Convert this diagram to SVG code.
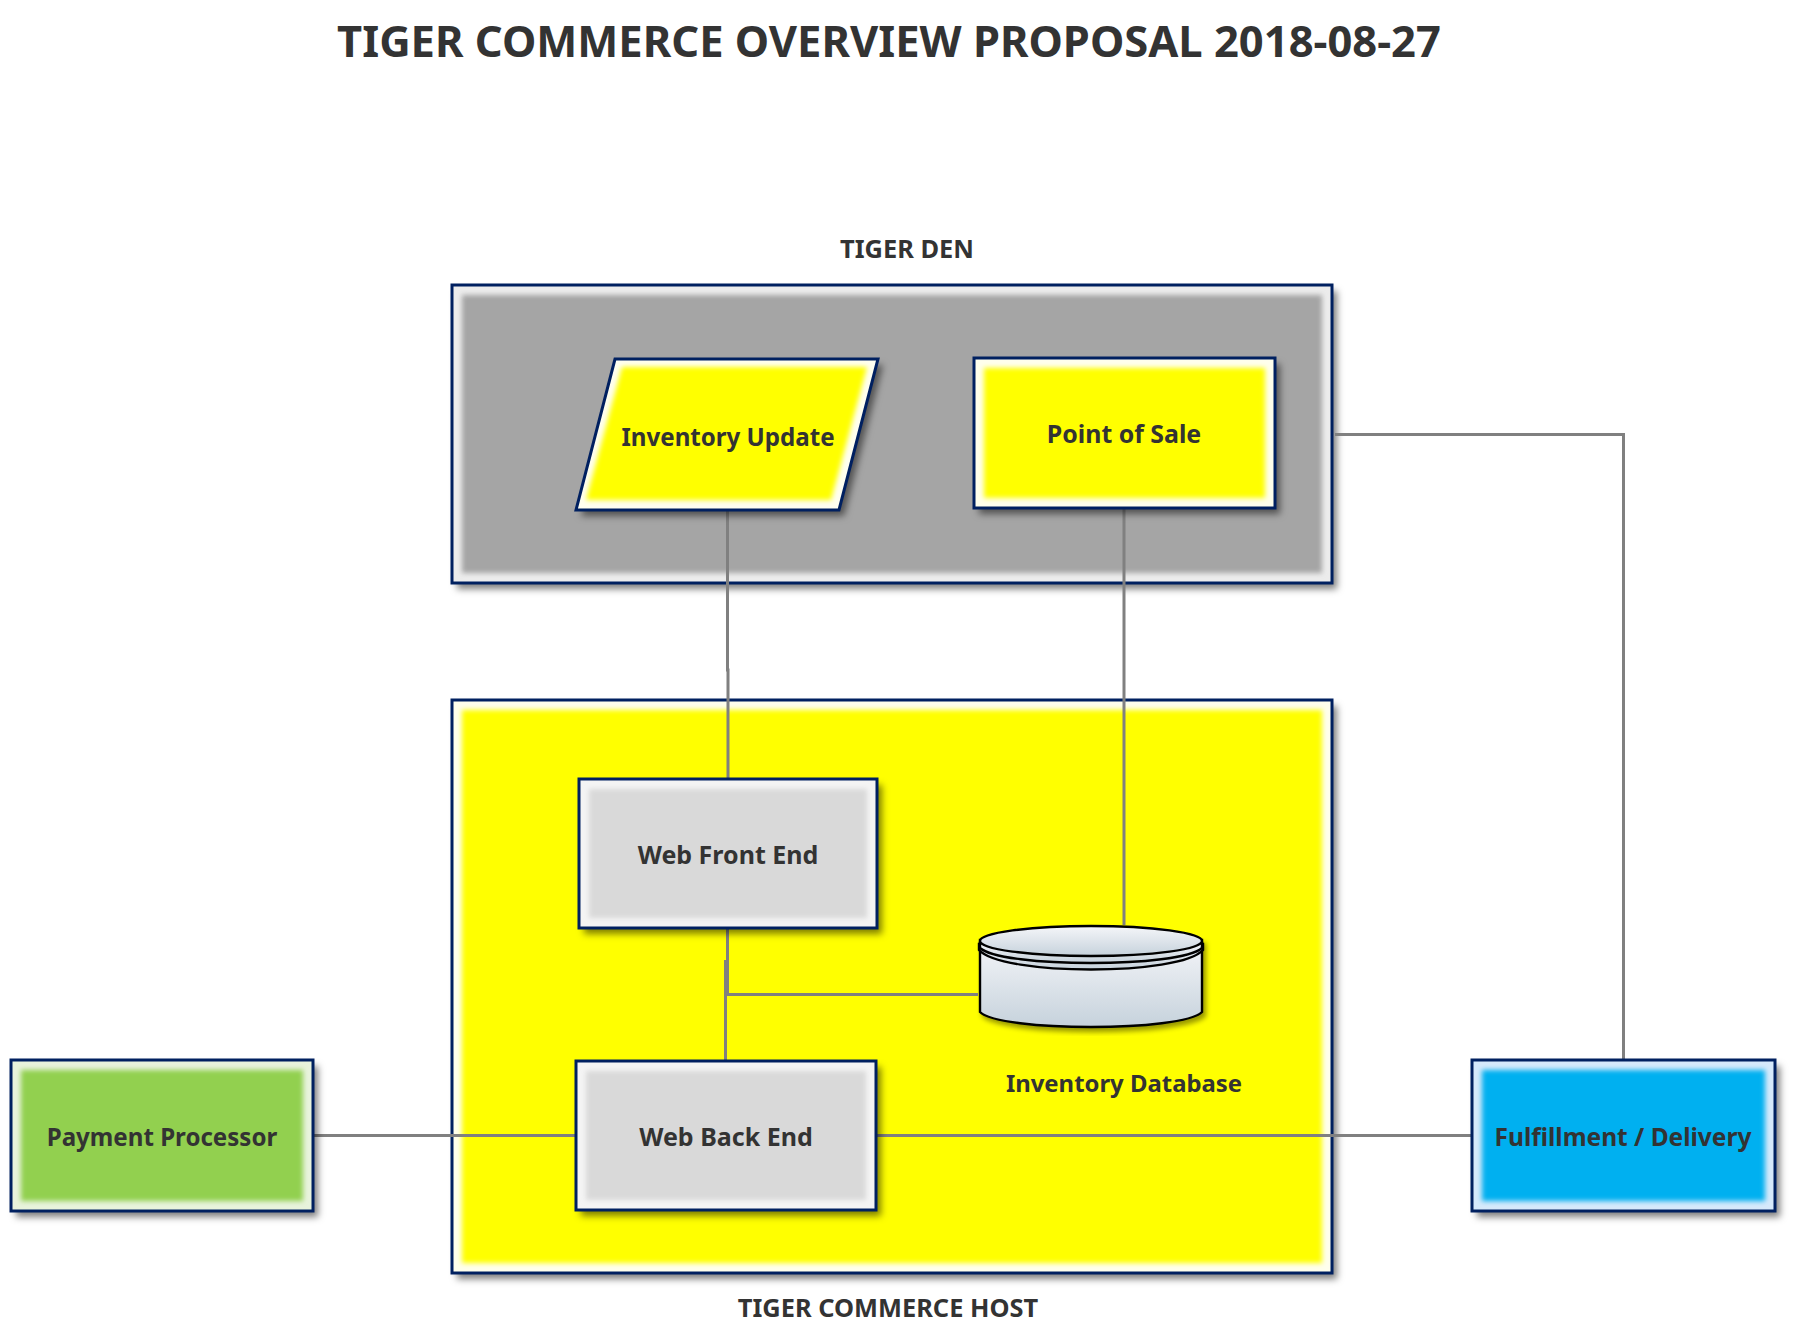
<svg xmlns="http://www.w3.org/2000/svg" width="1794" height="1333" viewBox="0 0 1794 1333">
<defs>
<filter id="shadow" x="-10%" y="-10%" width="120%" height="120%"><feDropShadow dx="5" dy="6" stdDeviation="3.5" flood-color="#000" flood-opacity="0.5"/></filter>
<filter id="shadow2" x="-10%" y="-10%" width="120%" height="120%"><feDropShadow dx="3" dy="4" stdDeviation="2.5" flood-color="#000" flood-opacity="0.4"/></filter>
<filter id="soft" x="-5%" y="-5%" width="110%" height="110%"><feGaussianBlur stdDeviation="2.4"/></filter>
<linearGradient id="cyl" x1="0" y1="0" x2="0" y2="1"><stop offset="0" stop-color="#f5f6f9"/><stop offset="1" stop-color="#c6d2dc"/></linearGradient>
</defs>
<style>
text{font-family:"Noto Sans","Open Sans","DejaVu Sans",sans-serif;font-weight:700;fill:#333;text-anchor:middle}
.lbl{font-size:24.5px}
.cap{font-size:25.4px}
.title{font-size:43.5px}
.edge{fill:none;stroke:#002060;stroke-width:3}
.conn{fill:none;stroke:#808080;stroke-width:3}
.cy{stroke:#000;stroke-width:2.4;fill:url(#cyl)}
</style>
<rect width="1794" height="1333" fill="#fff"/>
<text class="title" x="889" y="57">TIGER COMMERCE OVERVIEW PROPOSAL 2018-08-27</text>
<text class="cap" x="907" y="258">TIGER DEN</text>
<text class="cap" x="888" y="1317">TIGER COMMERCE HOST</text>

<g id="tiger-den">
<rect x="452" y="285" width="880" height="298" fill="#ececec" filter="url(#shadow)"/>
<rect x="462" y="295" width="860" height="278" fill="#a5a5a5" filter="url(#soft)"/>
<rect class="edge" x="452" y="285" width="880" height="298"/>
</g>
<g id="tiger-commerce-host">
<rect x="452" y="700" width="880" height="573" fill="#ffffec" filter="url(#shadow)"/>
<rect x="462" y="710" width="860" height="553" fill="#ff0" filter="url(#soft)"/>
<rect class="edge" x="452" y="700" width="880" height="573"/>
</g>

<g id="connectors">
<path class="conn" d="M727.5 510V670H728V779"/>
<path class="conn" d="M1124 508V925"/>
<path class="conn" d="M1335 434.500H1623.500V1060"/>
<path class="conn" d="M727.500 928V994.500H978"/>
<path class="conn" d="M725.500 960V1061"/>
<path class="conn" d="M314 1135.500H576"/>
<path class="conn" d="M876 1135.500H1472"/>
</g>

<g id="inventory-update">
<polygon points="615,359 878,359 839,510 576,510" fill="#fffff0" filter="url(#shadow)"/>
<polygon points="622,367 867,367 831,500 586,500" fill="#ff0" filter="url(#soft)"/>
<polygon class="edge" points="615,359 878,359 839,510 576,510"/>
<text class="lbl" style="font-size:24.1px" x="728" y="446">Inventory Update</text>
</g>
<g id="point-of-sale">
<rect x="974" y="358" width="301" height="150" fill="#ffffec" filter="url(#shadow)"/>
<rect x="984" y="368" width="281" height="130" fill="#ff0" filter="url(#soft)"/>
<rect class="edge" x="974" y="358" width="301" height="150"/>
<text class="lbl" style="font-size:24.9px" x="1124" y="443">Point of Sale</text>
</g>
<g id="web-front-end">
<rect x="579" y="779" width="298" height="149" fill="#f4f4f4" filter="url(#shadow)"/>
<rect x="589" y="789" width="278" height="129" fill="#d9d9d9" filter="url(#soft)"/>
<rect class="edge" x="579" y="779" width="298" height="149"/>
<text class="lbl" style="font-size:25px" x="728" y="864">Web Front End</text>
</g>
<g id="web-back-end">
<rect x="576" y="1061" width="300" height="149" fill="#f4f4f4" filter="url(#shadow)"/>
<rect x="586" y="1071" width="280" height="129" fill="#d9d9d9" filter="url(#soft)"/>
<rect class="edge" x="576" y="1061" width="300" height="149"/>
<text class="lbl" style="font-size:25px" x="726" y="1146">Web Back End</text>
</g>
<g id="inventory-database">
<path class="cy" filter="url(#shadow2)" d="M980 940V1012C1000 1032 1182 1032 1202 1012V940Z"/>
<path class="cy" d="M979 950V944H1203V950C1180 976 1002 976 979 950Z"/>
<path class="cy" d="M980 943V948C1002 968 1180 968 1202 948V943Z"/>
<ellipse class="cy" cx="1091" cy="941" rx="111" ry="15"/>
<text class="lbl" style="font-size:23.9px" x="1124" y="1092">Inventory Database</text>
</g>
<g id="payment-processor">
<rect x="11" y="1060" width="302" height="151" fill="#e8f3dc" filter="url(#shadow)"/>
<rect x="21" y="1070" width="282" height="131" fill="#92d050" filter="url(#soft)"/>
<rect class="edge" x="11" y="1060" width="302" height="151"/>
<text class="lbl" style="font-size:24.1px" x="162" y="1146">Payment Processor</text>
</g>
<g id="fulfillment-delivery">
<rect x="1472" y="1060" width="303" height="151" fill="#d6e9fb" filter="url(#shadow)"/>
<rect x="1482" y="1070" width="283" height="131" fill="#00b0f0" filter="url(#soft)"/>
<rect class="edge" x="1472" y="1060" width="303" height="151"/>
<text class="lbl" x="1623" y="1146">Fulfillment / Delivery</text>
</g>
</svg>
